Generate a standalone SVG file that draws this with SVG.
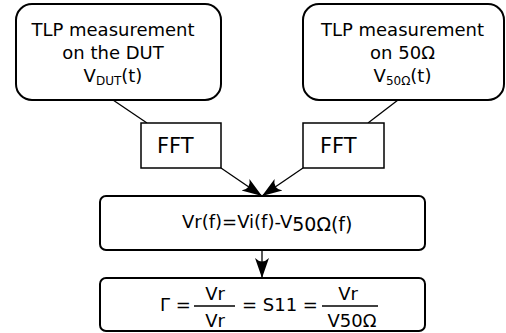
<svg xmlns="http://www.w3.org/2000/svg" width="506" height="333" viewBox="0 0 506 333">
<style>
.box{fill:#fff;stroke:#000;stroke-width:2}
.fft{fill:#fff;stroke:#000;stroke-width:1.5}
.t{font-family:"DejaVu Sans",sans-serif;fill:#000}
.c{stroke:#000;stroke-width:1.3;fill:none}
</style>
<defs>
<marker id="ah" markerUnits="userSpaceOnUse" markerWidth="22" markerHeight="16" refX="20" refY="8" orient="auto" viewBox="0 0 22 16">
<path d="M20,8 L0,1 Q7,8 0,15 Z" fill="#000"/>
</marker>
</defs>
<g id="connectors">
<line class="c" x1="113" y1="100" x2="147" y2="123"/>
<line class="c" x1="398" y1="100" x2="368" y2="123"/>
<line class="c" x1="221" y1="168" x2="262" y2="196" marker-end="url(#ah)"/>
<line class="c" x1="303" y1="168" x2="262" y2="196" marker-end="url(#ah)"/>
<line class="c" x1="262" y1="250" x2="262" y2="278" marker-end="url(#ah)"/>
</g>
<g id="dut">
<rect class="box" x="16" y="4" width="205" height="96" rx="16"/>
<text class="t" font-size="18" text-anchor="middle"><tspan x="113" y="36">TLP measurement</tspan><tspan x="113" y="59">on the DUT</tspan><tspan x="113" y="82">V<tspan font-size="12" dy="3">DUT</tspan><tspan dy="-3">(t)</tspan></tspan></text>
</g>
<g id="ref50">
<rect class="box" x="303" y="4" width="201" height="96" rx="16"/>
<text class="t" font-size="18" text-anchor="middle"><tspan x="402.5" y="36">TLP measurement</tspan><tspan x="402.5" y="59">on 50Ω</tspan><tspan x="402.5" y="82">V<tspan font-size="12" dy="3">50Ω</tspan><tspan dy="-3">(t)</tspan></tspan></text>
</g>
<g id="fft1">
<rect class="fft" x="141" y="123" width="80" height="45"/>
<text class="t" font-size="21" x="157" y="153">FFT</text>
</g>
<g id="fft2">
<rect class="fft" x="303" y="123" width="81" height="45"/>
<text class="t" font-size="21" x="320" y="153">FFT</text>
</g>
<g id="vr">
<rect class="box" x="100" y="196" width="325" height="54" rx="6"/>
<text class="t" font-size="18" x="182" y="228">Vr(f)=Vi(f)-V<tspan font-size="19" dy="3">50Ω(f)</tspan></text>
</g>
<g id="gamma">
<rect class="box" x="100" y="278" width="325" height="53" rx="6"/>
<text class="t" font-size="18" x="160" y="311">Γ =</text>
<line x1="194" y1="306" x2="235" y2="306" stroke="#000" stroke-width="1.3"/>
<text class="t" font-size="18" x="215" y="300" text-anchor="middle">Vr</text>
<text class="t" font-size="18" x="215" y="327" text-anchor="middle">Vr</text>
<text class="t" font-size="18" x="242" y="311">= S11 =</text>
<line x1="322" y1="306" x2="378" y2="306" stroke="#000" stroke-width="1.3"/>
<text class="t" font-size="18" x="348" y="300" text-anchor="middle">Vr</text>
<text class="t" font-size="18" x="352" y="327" text-anchor="middle">V50Ω</text>
</g>
</svg>
